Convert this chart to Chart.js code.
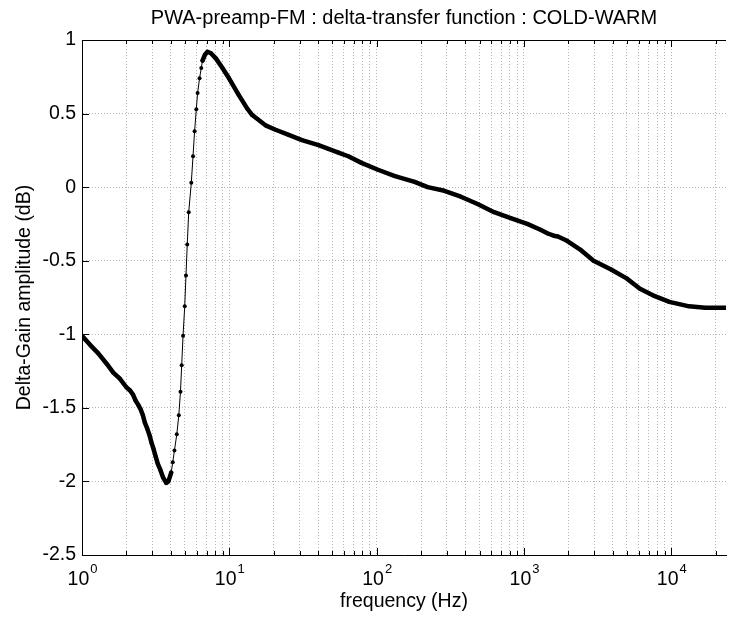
<!DOCTYPE html>
<html>
<head>
<meta charset="utf-8">
<script src="https://cdn.jsdelivr.net/npm/chart.js@4.4.0/dist/chart.umd.min.js"></script>
<style>
  html, body { margin: 0; padding: 0; background: #fff; }
  #wrap { width: 730px; height: 619px; }
</style>
</head>
<body>
<div id="wrap"><canvas id="myChart" width="730" height="619"></canvas></div>
<script>
// frequency (Hz) and delta gain (dB)
const freq = [1, 1.13, 1.29, 1.47, 1.63, 1.8, 2.0, 2.11, 2.22, 2.31, 2.41, 2.5, 2.59, 2.67, 2.77,
  2.88, 2.97, 3.06, 3.16, 3.27, 3.4, 3.54, 3.73, 3.86, 4.03, 4.13, 4.24, 4.4, 4.54, 4.66, 4.75,
  4.85, 4.98, 5.08, 5.18, 5.3, 5.52, 5.67, 5.81, 5.97, 6.09, 6.28, 6.45, 6.58, 6.83, 7.11, 7.5,
  8.1, 8.98, 9.95, 11.6, 13.2, 14.3, 17.6, 20.6, 25.3, 31.1, 40.3, 47.1, 55, 64.2, 78.9, 101,
  133, 181, 222, 288, 373, 484, 627, 812, 1052, 1294, 1450, 1592, 1700, 1958, 2450, 2965, 3900,
  4970, 6125, 7500, 9700, 13200, 17000, 23500];
const gain = [-1.01, -1.07, -1.13, -1.20, -1.26, -1.30, -1.36, -1.38, -1.41, -1.45, -1.48, -1.51, -1.55, -1.60, -1.64,
  -1.69, -1.74, -1.78, -1.83, -1.88, -1.92, -1.97, -2.01, -2.00, -1.94, -1.87, -1.79, -1.68, -1.55, -1.39, -1.21,
  -1.01, -0.81, -0.60, -0.39, -0.17, 0.03, 0.21, 0.38, 0.53, 0.64, 0.74, 0.81, 0.86, 0.90, 0.92, 0.91,
  0.875, 0.81, 0.74, 0.625, 0.535, 0.49, 0.42, 0.39, 0.355, 0.32, 0.285, 0.26, 0.235, 0.21, 0.165, 0.12,
  0.075, 0.036, 0.0, -0.025, -0.065, -0.115, -0.17, -0.21, -0.25, -0.29, -0.315, -0.33, -0.335, -0.365, -0.43, -0.50, -0.56,
  -0.62, -0.69, -0.735, -0.78, -0.81, -0.82, -0.82];

const yTicks = [1, 0.5, 0, -0.5, -1, -1.5, -2, -2.5];
const xDecades = [1, 10, 100, 1000, 10000];
const xMinorMult = [2, 3, 4, 5, 6, 7, 8, 9];
const xMax = 23500;

const FONT = '"Liberation Sans", Arial, Helvetica, sans-serif';
Chart.defaults.font.family = FONT;
Chart.defaults.color = '#000';

// MATLAB style box: top line, inward ticks, 10^n labels
const matlabAxes = {
  id: 'matlabAxes',
  afterDraw(chart) {
    const { ctx, chartArea: a, scales: { x, y } } = chart;
    ctx.save();
    ctx.strokeStyle = '#000';
    ctx.lineWidth = 1;
    ctx.beginPath();
    ctx.moveTo(a.left, a.top + 0.5);
    ctx.lineTo(a.right, a.top + 0.5);
    x.ticks.forEach(t => {
      const px = Math.round(x.getPixelForValue(t.value)) + 0.5;
      const len = xDecades.includes(t.value) ? 7 : 4;
      ctx.moveTo(px, a.bottom);
      ctx.lineTo(px, a.bottom - len);
      ctx.moveTo(px, a.top);
      ctx.lineTo(px, a.top + len);
    });
    yTicks.forEach(v => {
      const py = Math.round(y.getPixelForValue(v)) + 0.5;
      ctx.moveTo(a.left, py);
      ctx.lineTo(a.left + 7, py);
    });
    ctx.stroke();

    ctx.fillStyle = '#000';
    ctx.textAlign = 'left';
    ctx.textBaseline = 'alphabetic';
    xDecades.forEach(v => {
      const px = x.getPixelForValue(v);
      const exp = String(Math.round(Math.log10(v)));
      ctx.font = '19.5px ' + FONT;
      const wb = ctx.measureText('10').width;
      ctx.font = '13px ' + FONT;
      const we = ctx.measureText(exp).width;
      const x0 = px - (wb + we) / 2;
      ctx.font = '19.5px ' + FONT;
      ctx.fillText('10', x0, 585);
      ctx.font = '13px ' + FONT;
      ctx.fillText(exp, x0 + wb + 1, 573);
    });
    ctx.restore();
  }
};

const ctx = document.getElementById('myChart').getContext('2d');
const myChart = new Chart(ctx, {
  type: 'line',
  data: {
    datasets: [{
      label: 'COLD-WARM',
      data: freq.map((f, i) => ({ x: f, y: gain[i] })),
      borderColor: '#000',
      backgroundColor: '#000',
      borderWidth: 1,
      borderJoinStyle: 'round',
      borderCapStyle: 'round',
      pointRadius: 2,
      pointBorderWidth: 0,
      pointBackgroundColor: '#000',
      tension: 0,
      segment: {
        // dense marker look: thick where the curve is flat, thin where it is steep
        borderWidth: c => {
          const dx = Math.abs(c.p1.x - c.p0.x);
          const dy = Math.abs(c.p1.y - c.p0.y);
          return dy > 5 * dx ? 1 : 4.5;
        }
      }
    }]
  },
  options: {
    responsive: false,
    animation: false,
    layout: { padding: 0 },
    plugins: {
      legend: { display: false },
      tooltip: { enabled: false },
      title: {
        display: true,
        fullSize: false,
        text: 'PWA-preamp-FM : delta-transfer function : COLD-WARM',
        font: { size: 20, weight: 'normal', family: FONT },
        color: '#000',
        padding: { top: 6, bottom: 10 }
      }
    },
    scales: {
      x: {
        type: 'logarithmic',
        min: 1,
        max: xMax,
        afterBuildTicks: scale => {
          const ticks = [];
          xDecades.forEach(d => {
            ticks.push({ value: d });
            xMinorMult.forEach(m => { if (d * m <= xMax) ticks.push({ value: d * m }); });
          });
          scale.ticks = ticks.sort((p, q) => p.value - q.value);
        },
        afterFit: scale => { scale.height = 64; },
        ticks: { display: false, autoSkip: false },
        grid: { color: '#b4b4b4', lineWidth: 1, drawTicks: false },
        border: { display: true, color: '#000', width: 1, dash: [1, 2] },
        title: {
          display: true,
          text: 'frequency (Hz)',
          font: { size: 19.5, family: FONT },
          color: '#000',
          padding: { top: 0, bottom: 6 }
        }
      },
      y: {
        min: -2.5,
        max: 1,
        afterBuildTicks: scale => { scale.ticks = yTicks.map(v => ({ value: v })); },
        afterFit: scale => { scale.width = 82; },
        ticks: {
          padding: 6,
          font: { size: 19.5, family: FONT },
          color: '#000',
          callback: v => String(Math.round(v * 10) / 10)
        },
        grid: { color: '#b4b4b4', lineWidth: 1, drawTicks: false },
        border: { display: true, color: '#000', width: 1, dash: [1, 2] },
        title: {
          display: true,
          text: 'Delta-Gain amplitude (dB)',
          font: { size: 19.5, family: FONT },
          color: '#000',
          padding: { top: 13, bottom: 0 }
        }
      }
    }
  },
  plugins: [matlabAxes]
});
</script>
</body>
</html>
